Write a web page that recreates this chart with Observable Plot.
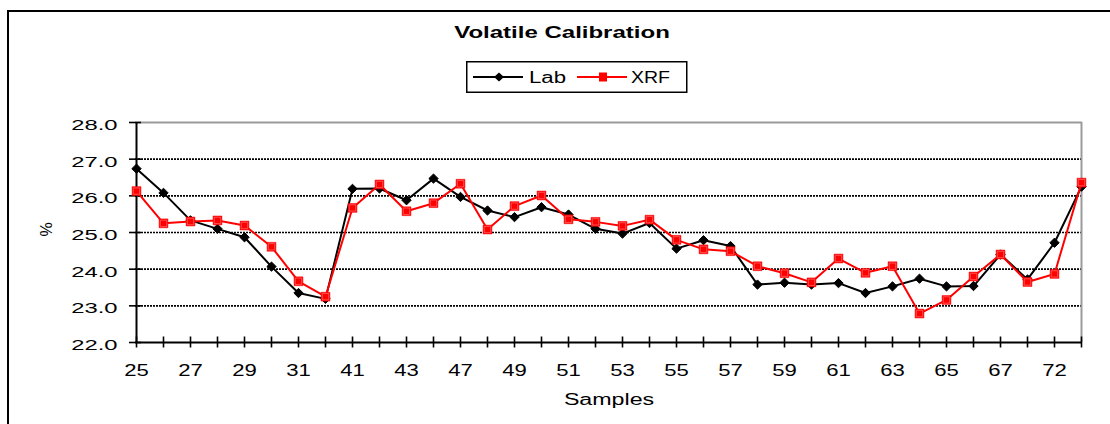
<!DOCTYPE html>
<html>
<head>
<meta charset="utf-8">
<script src="https://cdn.jsdelivr.net/npm/d3@7"></script>
<script src="https://cdn.jsdelivr.net/npm/@observablehq/plot@0.6"></script>
<style>
  html, body { margin: 0; padding: 0; background: #fff; }
  #wrap { position: relative; width: 1110px; height: 424px; overflow: hidden; font-family: "Liberation Sans", Arial, sans-serif; }
  #border { position: absolute; left: 7px; top: 10px; width: 1200px; height: 600px; border: 2px solid #000; box-sizing: border-box; }
  #chart { position: absolute; left: 0; top: 0; }
  #title { position: absolute; left: 562px; top: 25px; font-size: 16px; line-height: 16px; font-weight: bold; white-space: nowrap; transform: translateX(-50%) scaleX(1.5); }
  #legend { position: absolute; left: 466px; top: 61px; }
</style>
</head>
<body>
<div id="wrap">
  <div id="border"></div>
  <div id="chart"></div>
  <div id="title">Volatile Calibration</div>
  <svg id="legend" width="224" height="34"></svg>
</div>
<script>
const samples = ["25","26","27","28","29","30","31","32","41","42","43","45","47","48","49","50","51","52","53","54","55","56","57","58","59","60","61","62","63","64","65","66","67","70","72","73"];
const lab = [26.74, 26.08, 25.33, 25.10, 24.87, 24.07, 23.35, 23.19, 26.19, 26.20, 25.88, 26.47, 25.97, 25.60, 25.42, 25.69, 25.49, 25.10, 24.97, 25.26, 24.56, 24.79, 24.63, 23.58, 23.63, 23.58, 23.62, 23.35, 23.53, 23.74, 23.53, 23.54, 24.40, 23.72, 24.72, 26.25];
const xrf = [26.13, 25.25, 25.30, 25.33, 25.19, 24.61, 23.67, 23.25, 25.67, 26.31, 25.58, 25.80, 26.33, 25.08, 25.72, 26.01, 25.36, 25.29, 25.18, 25.35, 24.80, 24.54, 24.49, 24.08, 23.89, 23.64, 24.29, 23.90, 24.08, 22.79, 23.16, 23.80, 24.40, 23.65, 23.87, 26.36];
const xLabels = ["25","27","29","31","41","43","47","49","51","53","55","57","59","61","63","65","67","72"];
const yTicks = [22, 23, 24, 25, 26, 27, 28];
const gridValues = [23, 24, 25, 26, 27];
const seriesNames = ["Lab", "XRF"];

const labRows = samples.map((s, i) => ({sample: s, value: lab[i]}));
const xrfRows = samples.map((s, i) => ({sample: s, value: xrf[i]}));
const labelSet = new Set(xLabels);
const FONT = "Liberation Sans, Arial, sans-serif";

const chart = Plot.plot({
  width: 1110,
  height: 424,
  marginLeft: 135,
  marginRight: 28,
  marginTop: 122,
  marginBottom: 82,
  style: {fontFamily: FONT, fontSize: "14px", background: "transparent", color: "#000"},
  x: {type: "point", domain: samples, padding: 0, label: null},
  y: {domain: [22, 28], label: null},
  marks: [
    Plot.ruleY(gridValues, {stroke: "#000", strokeWidth: 1.7, strokeDasharray: "2,1"}),
    Plot.ruleY([28], {stroke: "#9a9a9a", strokeWidth: 2}),
    Plot.ruleX([samples[samples.length - 1]], {y1: 22, y2: 28, stroke: "#9a9a9a", strokeWidth: 2}),
    Plot.ruleY([22], {stroke: "#000", strokeWidth: 2}),
    Plot.ruleX([samples[0]], {y1: 22, y2: 28, stroke: "#000", strokeWidth: 2}),
    Plot.axisY({ticks: yTicks, tickSize: 12, dx: 6, tickFormat: () => "", strokeWidth: 1.6}),
    Plot.axisY({ticks: yTicks, tickSize: 0, tickPadding: 18, dy: 3, tickFormat: d => d.toFixed(1), fontSize: 14}),
    Plot.axisX({ticks: samples, tickSize: 11, dy: -5.5, tickFormat: () => "", strokeWidth: 1.6}),
    Plot.axisX({ticks: samples, tickSize: 0, tickPadding: 21, tickFormat: d => labelSet.has(d) ? d : "", fontSize: 17}),
    Plot.text(["Samples"], {frameAnchor: "bottom", dy: 62, fontSize: 16, fill: "#000"}),
    Plot.text(["%"], {frameAnchor: "left", dx: -89, dy: 4, rotate: -90, fontSize: 16, fill: "#000"}),
    Plot.line(labRows, {x: "sample", y: "value", stroke: "#000", strokeWidth: 2}),
    Plot.dot(labRows, {x: "sample", y: "value", symbol: "diamond2", r: 4.2, fill: "#000", stroke: "#000", strokeWidth: 1}),
    Plot.line(xrfRows, {x: "sample", y: "value", stroke: "#ff0000", strokeWidth: 2}),
    Plot.dot(xrfRows, {x: "sample", y: "value", symbol: "square", r: 5, fill: "#ff0000", stroke: "#ff0000", strokeWidth: 0.5}),
    Plot.dot(xrfRows, {x: "sample", y: "value", symbol: "square", r: 3.6, fill: "none", stroke: "#ff8080", strokeWidth: 0.6})
  ]
});
document.getElementById("chart").appendChild(chart);

function stretch(nodes, factor) {
  nodes.forEach(t => {
    if (!t.textContent) return;
    const len = t.getComputedTextLength();
    if (len > 0) {
      t.setAttribute("textLength", (len * factor).toFixed(2));
      t.setAttribute("lengthAdjust", "spacingAndGlyphs");
    }
  });
}
const allText = Array.from(chart.querySelectorAll("text"));
const yLabelTexts = allText.filter(t => /^\d\d\.\d$/.test(t.textContent));
const xLabelTexts = allText.filter(t => labelSet.has(t.textContent));
stretch(yLabelTexts, 1.7);
stretch(xLabelTexts, 1.3);
stretch(allText.filter(t => t.textContent === "Samples"), 1.45);

// legend
const lg = d3.select("#legend");
lg.append("rect").attr("x", 0.75).attr("y", 0.75).attr("width", 220).attr("height", 30.5)
  .attr("fill", "#fff").attr("stroke", "#000").attr("stroke-width", 1.5);
const items = [
  {name: seriesNames[0], color: "#000", x0: 7, tx: 63, tw: 37, sym: "diamond"},
  {name: seriesNames[1], color: "#ff0000", x0: 111, tx: 165, tw: 39, sym: "square"}
];
items.forEach(it => {
  lg.append("line").attr("x1", it.x0).attr("x2", it.x0 + 50).attr("y1", 16).attr("y2", 16)
    .attr("stroke", it.color).attr("stroke-width", 2);
  const cx = it.x0 + 26;
  if (it.sym === "diamond") {
    lg.append("path").attr("d", `M${cx - 5},16L${cx},11.5L${cx + 5},16L${cx},20.5Z`).attr("fill", it.color);
  } else {
    lg.append("rect").attr("x", cx - 4).attr("y", 11.5).attr("width", 8).attr("height", 9).attr("fill", it.color);
  }
  lg.append("text").attr("x", it.tx).attr("y", 21.5).attr("font-size", 16)
    .attr("font-family", FONT).attr("textLength", it.tw).attr("lengthAdjust", "spacingAndGlyphs")
    .text(it.name);
});
</script>
</body>
</html>
